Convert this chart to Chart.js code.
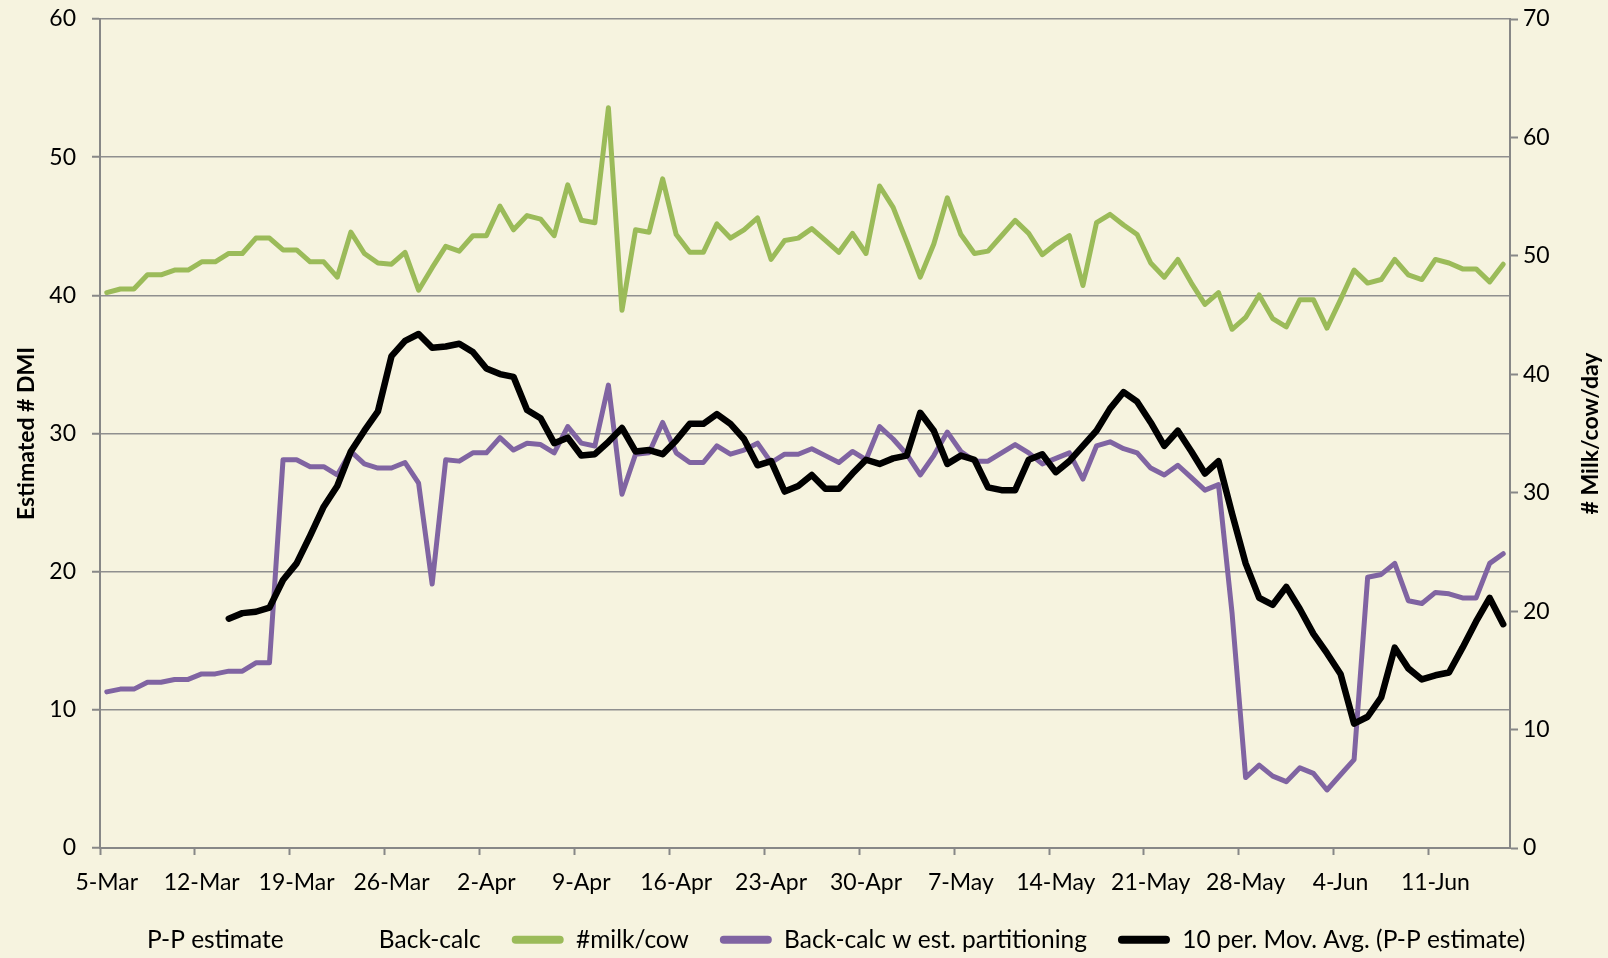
<!DOCTYPE html>
<html>
<head>
<meta charset="utf-8">
<title>Estimated DMI</title>
<script src="https://cdn.jsdelivr.net/npm/chart.js@4.4.1/dist/chart.umd.min.js"></script>
<style>
  html, body { margin: 0; padding: 0; background: #F6F3DF; }
  #wrap { width: 1608px; height: 958px; position: relative; }
</style>
</head>
<body>
<div id="wrap"><canvas id="dmiChart"></canvas></div>
<script>
// one category per day, 5-Mar .. 16-Jun
const monthNames = ['Mar', 'Apr', 'May', 'Jun'];
const monthLengths = [31, 30, 31, 30];
const dayCount = 104;
const dayLabels = [];
let mi = 0, dd = 5;
for (let i = 0; i < dayCount; i++) {
    dayLabels.push(dd + '-' + monthNames[mi]);
    dd++;
    if (dd > monthLengths[mi]) { dd = 1; mi++; }
}

// weekly tick labels
const tickLabels = ['5-Mar', '12-Mar', '19-Mar', '26-Mar', '2-Apr', '9-Apr', '16-Apr', '23-Apr',
    '30-Apr', '7-May', '14-May', '21-May', '28-May', '4-Jun', '11-Jun'];

// #milk/cow (right axis)
const milkPerCow = [
    46.9, 47.2, 47.2, 48.4, 48.4, 48.8, 48.8, 49.5, 49.5, 50.2,
    50.2, 51.5, 51.5, 50.5, 50.5, 49.5, 49.5, 48.2, 52.0, 50.2,
    49.4, 49.3, 50.3, 47.1, 49.0, 50.8, 50.4, 51.7, 51.7, 54.2,
    52.2, 53.4, 53.1, 51.7, 56.0, 53.0, 52.8, 62.5, 45.4, 52.2,
    52.0, 56.5, 51.8, 50.3, 50.3, 52.7, 51.5, 52.2, 53.2, 49.7,
    51.3, 51.5, 52.3, 51.3, 50.3, 51.9, 50.2, 55.9, 54.1, 51.2,
    48.2, 51.0, 54.9, 51.8, 50.2, 50.4, 51.7, 53.0, 51.9, 50.1,
    51.0, 51.7, 47.5, 52.8, 53.5, 52.6, 51.8, 49.4, 48.2, 49.7,
    47.7, 45.9, 46.9, 43.8, 44.8, 46.7, 44.7, 44.0, 46.3, 46.3,
    43.9, 46.3, 48.8, 47.7, 48.0, 49.7, 48.4, 48.0, 49.7, 49.4,
    48.9, 48.9, 47.8, 49.3
];

// Back-calc w est. partitioning (left axis)
const backCalcPartitioning = [
    11.3, 11.5, 11.5, 12.0, 12.0, 12.2, 12.2, 12.6, 12.6, 12.8,
    12.8, 13.4, 13.4, 28.1, 28.1, 27.6, 27.6, 27.0, 28.7, 27.8,
    27.5, 27.5, 27.9, 26.4, 19.1, 28.1, 28.0, 28.6, 28.6, 29.7,
    28.8, 29.3, 29.2, 28.6, 30.5, 29.3, 29.1, 33.5, 25.6, 28.5,
    28.6, 30.8, 28.6, 27.9, 27.9, 29.1, 28.5, 28.8, 29.3, 27.9,
    28.5, 28.5, 28.9, 28.4, 27.9, 28.7, 28.1, 30.5, 29.6, 28.5,
    27.0, 28.4, 30.1, 28.7, 28.0, 28.0, 28.6, 29.2, 28.6, 27.8,
    28.2, 28.6, 26.7, 29.1, 29.4, 28.9, 28.6, 27.5, 27.0, 27.7,
    26.8, 25.9, 26.3, 17.0, 5.1, 6.0, 5.2, 4.8, 5.8, 5.4,
    4.2, 5.3, 6.4, 19.6, 19.8, 20.6, 17.9, 17.7, 18.5, 18.4,
    18.1, 18.1, 20.6, 21.3
];

// 10 per. Mov. Avg. (P-P estimate) (left axis)
const movingAvgPP = [
    null, null, null, null, null, null, null, null, null, 16.6,
    17.0, 17.1, 17.4, 19.4, 20.6, 22.6, 24.7, 26.2, 28.7, 30.2,
    31.6, 35.6, 36.7, 37.2, 36.2, 36.3, 36.5, 35.9, 34.7, 34.3,
    34.1, 31.7, 31.1, 29.3, 29.7, 28.4, 28.5, 29.4, 30.4, 28.7,
    28.8, 28.5, 29.5, 30.7, 30.7, 31.4, 30.7, 29.6, 27.7, 28.0,
    25.8, 26.2, 27.0, 26.0, 26.0, 27.1, 28.1, 27.8, 28.2, 28.4,
    31.5, 30.2, 27.8, 28.4, 28.1, 26.1, 25.9, 25.9, 28.1, 28.5,
    27.2, 28.0, 29.1, 30.2, 31.8, 33.0, 32.3, 30.8, 29.1, 30.2,
    28.7, 27.1, 28.0, 24.2, 20.6, 18.1, 17.6, 18.9, 17.3, 15.5,
    14.1, 12.6, 9.0, 9.5, 10.9, 14.5, 13.0, 12.2, 12.5, 12.7,
    14.5, 16.4, 18.1, 16.2
];

// series with no line drawn in the source chart
const ppEstimate = [];
const backCalc = [];

const axisGrey = '#878787';
const gridGrey = '#8f8f8f';
const bgColor = '#F6F3DF';
const fontFamily = 'Lato, "Open Sans", sans-serif';

const titlePlugin = {
    id: 'chartDecor',
    beforeDraw(chart) {
        const c = chart.ctx;
        c.save();
        c.fillStyle = bgColor;
        c.fillRect(0, 0, chart.width, chart.height);
        c.restore();
    },
    afterDraw(chart) {
        const c = chart.ctx;
        const area = chart.chartArea;
        const midY = (area.top + area.bottom) / 2;
        c.save();
        c.fillStyle = '#000';
        c.font = 'bold 23px ' + fontFamily;
        c.textAlign = 'center';
        c.textBaseline = 'middle';
        c.translate(27, midY);
        c.rotate(-Math.PI / 2);
        c.fillText('Estimated # DMI', 0, 0);
        c.restore();

        c.save();
        c.fillStyle = '#000';
        c.font = 'bold 23px ' + fontFamily;
        c.textAlign = 'center';
        c.textBaseline = 'middle';
        c.translate(1591, midY);
        c.rotate(-Math.PI / 2);
        c.fillText('# Milk/cow/day', 0, 0);
        c.restore();
    }
};

const ctx = document.getElementById('dmiChart').getContext('2d');

const dmiChart = new Chart(ctx, {
    type: 'line',
    data: {
        labels: dayLabels,
        datasets: [
            {
                label: 'P-P estimate',
                data: ppEstimate,
                borderColor: 'rgba(0,0,0,0)',
                backgroundColor: 'rgba(0,0,0,0)',
                yAxisID: 'y',
                order: 4
            },
            {
                label: 'Back-calc',
                data: backCalc,
                borderColor: 'rgba(0,0,0,0)',
                backgroundColor: 'rgba(0,0,0,0)',
                yAxisID: 'y',
                order: 3
            },
            {
                label: '#milk/cow',
                data: milkPerCow,
                borderColor: '#9BBB59',
                backgroundColor: '#9BBB59',
                borderWidth: 5,
                yAxisID: 'y1',
                order: 2
            },
            {
                label: 'Back-calc w est. partitioning',
                data: backCalcPartitioning,
                borderColor: '#8064A2',
                backgroundColor: '#8064A2',
                borderWidth: 5,
                yAxisID: 'y',
                order: 1
            },
            {
                label: '10 per. Mov. Avg. (P-P estimate)',
                data: movingAvgPP,
                borderColor: '#000000',
                backgroundColor: '#000000',
                borderWidth: 6.5,
                yAxisID: 'y',
                order: 0
            }
        ]
    },
    options: {
        responsive: true,
        maintainAspectRatio: false,
        animation: false,
        layout: {
            padding: { top: 19, left: 0, right: 0, bottom: -4 }
        },
        elements: {
            point: { radius: 0, hoverRadius: 0 },
            line: { tension: 0, fill: false, borderJoinStyle: 'round', borderCapStyle: 'round' }
        },
        plugins: {
            legend: {
                position: 'bottom',
                labels: {
                    color: '#000',
                    font: { family: fontFamily, size: 24.5 },
                    boxWidth: 52,
                    boxHeight: 8,
                    padding: 31,
                    useBorderRadius: true,
                    borderRadius: 4,
                    sort: (a, b) => a.datasetIndex - b.datasetIndex,
                    generateLabels: function(chart) {
                        return Chart.defaults.plugins.legend.labels.generateLabels(chart).map(function(item) {
                            item.fillStyle = item.strokeStyle;
                            item.lineWidth = 0;
                            return item;
                        });
                    }
                }
            },
            tooltip: { enabled: false }
        },
        scales: {
            x: {
                type: 'category',
                offset: true,
                grid: {
                    offset: true,
                    drawOnChartArea: false,
                    tickLength: 7,
                    tickWidth: 2,
                    tickColor: c => (c.index % 7 === 0 ? axisGrey : 'rgba(0,0,0,0)')
                },
                border: { color: axisGrey, width: 2 },
                ticks: {
                    autoSkip: false,
                    maxRotation: 0,
                    minRotation: 0,
                    padding: 14,
                    color: '#000',
                    font: { family: fontFamily, size: 23 },
                    callback: (value, index) => (index % 7 === 0 ? tickLabels[index / 7] : '')
                },
                afterFit: s => { s.height = 48.5; }
            },
            y: {
                position: 'left',
                min: 0,
                max: 60,
                ticks: {
                    stepSize: 10,
                    padding: 16,
                    color: '#000',
                    font: { family: fontFamily, size: 23 }
                },
                grid: {
                    color: gridGrey,
                    lineWidth: 1.5,
                    tickLength: 8,
                    tickColor: axisGrey,
                    tickWidth: 2
                },
                border: { color: axisGrey, width: 2 },
                afterFit: s => { s.width = 100; s.paddingTop = 0; s.paddingBottom = 0; }
            },
            y1: {
                position: 'right',
                min: 0,
                max: 70,
                ticks: {
                    stepSize: 10,
                    padding: 5,
                    color: '#000',
                    font: { family: fontFamily, size: 23 }
                },
                grid: {
                    drawOnChartArea: false,
                    tickLength: 8,
                    tickColor: axisGrey,
                    tickWidth: 2
                },
                border: { color: axisGrey, width: 2 },
                afterFit: s => { s.width = 98; s.paddingTop = 0; s.paddingBottom = 0; }
            }
        }
    },
    plugins: [titlePlugin]
});
</script>
</body>
</html>
